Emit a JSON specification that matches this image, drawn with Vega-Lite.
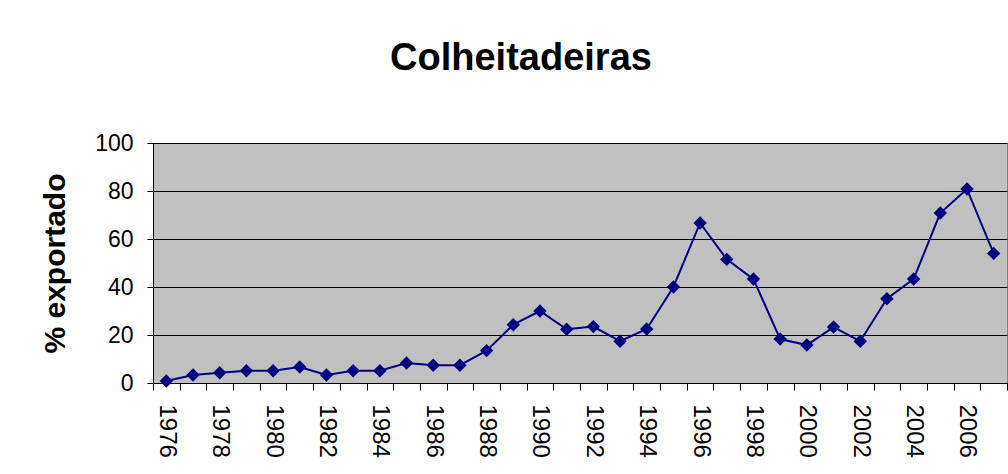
{
  "$schema": "https://vega.github.io/schema/vega-lite/v6.json",
  "width": 854,
  "height": 240,
  "autosize": {"type": "none"},
  "padding": {"left": 153, "top": 143, "right": 1, "bottom": 91},
  "background": "white",
  "title": {
    "text": "Colheitadeiras",
    "font": "Liberation Sans",
    "fontSize": 38,
    "fontWeight": "bold",
    "color": "black",
    "anchor": "middle",
    "dx": -59,
    "offset": 54
  },
  "data": {
    "values": [
      {"year": 1976, "pct": 0.8},
      {"year": 1977, "pct": 3.3},
      {"year": 1978, "pct": 4.3},
      {"year": 1979, "pct": 5.1},
      {"year": 1980, "pct": 5.1},
      {"year": 1981, "pct": 6.7},
      {"year": 1982, "pct": 3.3},
      {"year": 1983, "pct": 5.1},
      {"year": 1984, "pct": 5.1},
      {"year": 1985, "pct": 8.3},
      {"year": 1986, "pct": 7.4},
      {"year": 1987, "pct": 7.4},
      {"year": 1988, "pct": 13.5},
      {"year": 1989, "pct": 24.3},
      {"year": 1990, "pct": 30.0},
      {"year": 1991, "pct": 22.4},
      {"year": 1992, "pct": 23.5},
      {"year": 1993, "pct": 17.4},
      {"year": 1994, "pct": 22.5},
      {"year": 1995, "pct": 40.0},
      {"year": 1996, "pct": 66.7},
      {"year": 1997, "pct": 51.5},
      {"year": 1998, "pct": 43.3},
      {"year": 1999, "pct": 18.3},
      {"year": 2000, "pct": 15.8},
      {"year": 2001, "pct": 23.3},
      {"year": 2002, "pct": 17.4},
      {"year": 2003, "pct": 35.1},
      {"year": 2004, "pct": 43.3},
      {"year": 2005, "pct": 70.8},
      {"year": 2006, "pct": 80.8},
      {"year": 2007, "pct": 54.0}
    ]
  },
  "encoding": {
    "x": {
      "field": "year",
      "type": "ordinal",
      "scale": {"paddingInner": 0, "paddingOuter": 0},
      "axis": {
        "title": null,
        "labelAngle": 90,
        "labelAlign": "left",
        "labelBaseline": "middle",
        "labelFont": "Liberation Sans",
        "labelFontSize": 24,
        "labelColor": "black",
        "labelPadding": 14,
        "labelOverlap": false,
        "labelExpr": "datum.value % 2 == 0 ? datum.label : ''",
        "tickBand": "extent",
        "tickSize": 7,
        "tickColor": "black",
        "domainColor": "black",
        "grid": false
      }
    },
    "y": {
      "field": "pct",
      "type": "quantitative",
      "scale": {"domain": [0, 100], "nice": false},
      "axis": {
        "title": "% exportado",
        "titleFont": "Liberation Sans",
        "titleFontSize": 30,
        "titleFontWeight": "bold",
        "titleColor": "black",
        "titlePadding": 24,
        "values": [0, 20, 40, 60, 80, 100],
        "labelFont": "Liberation Sans",
        "labelFontSize": 23,
        "labelColor": "black",
        "labelPadding": 14,
        "tickSize": 6,
        "tickColor": "black",
        "domainColor": "black",
        "grid": true,
        "gridColor": "black",
        "gridOpacity": 1,
        "gridWidth": 1
      }
    }
  },
  "layer": [
    {"mark": {"type": "line", "color": "#000080", "strokeWidth": 2}},
    {"mark": {"type": "point", "shape": "diamond", "filled": true, "color": "#000080", "opacity": 1, "size": 180}}
  ],
  "config": {
    "view": {"fill": "#C0C0C0", "stroke": "#808080", "strokeWidth": 1}
  }
}
